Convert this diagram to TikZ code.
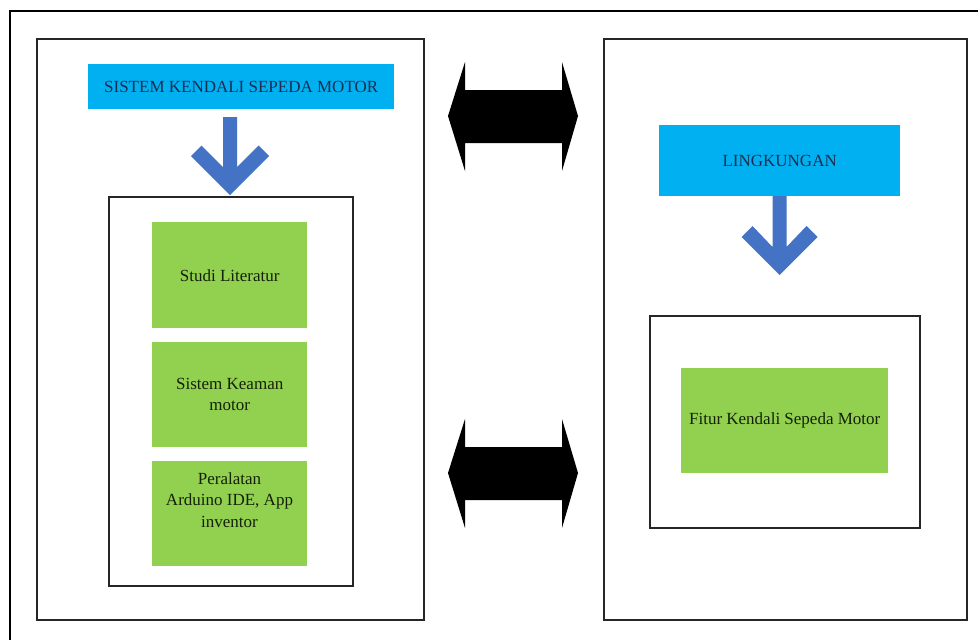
\documentclass[tikz,border=0pt]{standalone}
\usepackage{fontspec}
\usetikzlibrary{calc}
\setmainfont{Liberation Serif}
\definecolor{cyanbox}{HTML}{00B0F0}
\definecolor{greenbox}{HTML}{92D050}
\definecolor{bluearrow}{HTML}{4472C4}
\definecolor{navytext}{HTML}{1C2E52}
\definecolor{greentext}{HTML}{142008}
\begin{document}
\begin{tikzpicture}[x=1pt,y=-1pt,
  frame/.style={draw=black!85, line width=1.5pt, fill=white, inner sep=0pt, anchor=north west},
  titlebox/.style={fill=cyanbox, draw=none, inner sep=0pt, anchor=north west, text=navytext,
     font=\fontsize{17}{21.5}\selectfont, align=center},
  greenbox/.style={fill=greenbox, draw=none, inner sep=0pt, anchor=north west, text=greentext,
     font=\fontsize{17}{21.5}\selectfont, align=center},
  gtext/.style={text=greentext, font=\fontsize{17}{21.5}\selectfont, align=center, inner sep=0pt},
  chevron/.style={fill=bluearrow, draw=none},
  dblarrow/.style={fill=black, draw=none}]
\useasboundingbox (0,0) rectangle (978,640);
\clip (0,0) rectangle (978,640);
\fill[white] (0,0) rectangle (978,640);
% outer frame
\draw[line width=1.3pt, black] (10,660) -- (10,11) -- (995,11);
% left panel
\node[frame, minimum width=387pt, minimum height=581pt] (lpanel) at (36,38) {};
\node[titlebox, minimum width=306pt, minimum height=45pt] (ltitle) at (88,64) {SISTEM KENDALI SEPEDA MOTOR};
\node[frame, minimum width=244pt, minimum height=389pt] (linner) at (108,196) {};
\node[greenbox, minimum width=155pt, minimum height=106pt] (g1) at (152,222) {Studi Literatur};
\node[greenbox, minimum width=155pt, minimum height=105pt] (g2) at (152,342) {Sistem Keaman\\motor};
\node[greenbox, minimum width=155pt, minimum height=105pt] (g3) at (152,461) {};
\node[gtext] (g3t) at (229.5,500) {Peralatan\\Arduino IDE, App\\inventor};
% right panel
\node[frame, minimum width=363pt, minimum height=581pt] (rpanel) at (603,38) {};
\node[titlebox, minimum width=241pt, minimum height=71pt] (rtitle) at (659,125) {LINGKUNGAN};
\node[frame, minimum width=270pt, minimum height=212pt] (rinner) at (649,315) {};
\node[greenbox, minimum width=207pt, minimum height=105pt] (g4) at (681,368) {Fitur Kendali Sepeda Motor};
% blue chevron arrows
\coordinate (la) at (230,117);
\coordinate (ra) at (779.5,196);
\fill[chevron] ($(la)+(0,78)$) -- ++(-39,-39) -- ++(10.5,-10.5) -- ($(la)+(-7,50)$) -- ($(la)+(-7,0)$)
  -- ($(la)+(7,0)$) -- ($(la)+(7,50)$) -- ($(la)+(28.5,28.5)$) -- ($(la)+(39,39)$) -- cycle;
\fill[chevron] ($(ra)+(0,79)$) -- ++(-38,-38) -- ++(11,-11) -- ($(ra)+(-7,51)$) -- ($(ra)+(-7,0)$)
  -- ($(ra)+(7,0)$) -- ($(ra)+(7,51)$) -- ($(ra)+(27,30)$) -- ($(ra)+(38,41)$) -- cycle;
% black double arrows
\coordinate (d1) at (513,116);
\coordinate (d2) at (513,473);
\foreach \c in {d1,d2}{
\fill[dblarrow] ($(\c)+(-65,0)$) -- ($(\c)+(-48,-54)$) -- ($(\c)+(-48,-26)$) -- ($(\c)+(49,-26)$)
  -- ($(\c)+(49,-54)$) -- ($(\c)+(65,0)$) -- ($(\c)+(49,55)$) -- ($(\c)+(49,27)$)
  -- ($(\c)+(-48,27)$) -- ($(\c)+(-48,55)$) -- cycle;
}
\end{tikzpicture}
\end{document}
